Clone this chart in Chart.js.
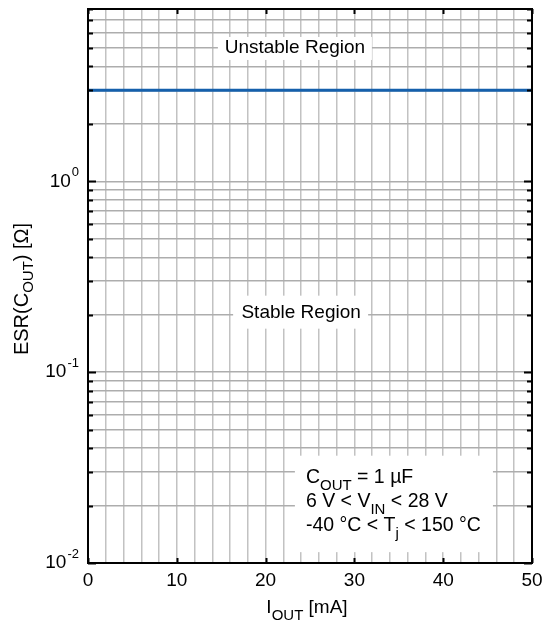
<!DOCTYPE html>
<html>
<head>
<meta charset="utf-8">
<script src="https://cdn.jsdelivr.net/npm/chart.js@4/dist/chart.umd.min.js"></script>
<style>
  html, body { margin: 0; padding: 0; background: #fff; }
  #wrap { width: 550px; height: 623px; }
</style>
</head>
<body>
<div id="wrap"><canvas id="chart"></canvas></div>
<script>
// data
const ioutRange = [0, 50];
const esrLimit = [3, 3];
const xLabels = [0, 10, 20, 30, 40, 50];
const yDecades = [0.01, 0.1, 1];
const yTicks = [
    0.01, 0.02, 0.03, 0.04, 0.05, 0.06, 0.07, 0.08, 0.09,
    0.1, 0.2, 0.3, 0.4, 0.5, 0.6, 0.7, 0.8, 0.9,
    1, 2, 3, 4, 5, 6, 7, 8
];
const decadeExp = ['-2', '-1', '0'];

const FONT = "'Liberation Sans', Arial, Helvetica, sans-serif";

function font(size) {
    return size + 'px ' + FONT;
}

// text pieces with subscripts
function richWidth(ctx, parts, size, subSize) {
    let w = 0;
    parts.forEach(p => {
        ctx.font = font(p.sub ? subSize : size);
        w += ctx.measureText(p.t).width;
    });
    return w;
}

function drawRich(ctx, parts, x, y, size, subSize) {
    let cx = x;
    parts.forEach(p => {
        ctx.font = font(p.sub ? subSize : size);
        ctx.fillText(p.t, cx, p.sub ? y + 7 : y);
        cx += ctx.measureText(p.t).width;
    });
}

const decorPlugin = {
    id: 'decor',
    beforeDraw(chart) {
        const ctx = chart.ctx;
        ctx.save();
        ctx.fillStyle = '#fff';
        ctx.fillRect(0, 0, chart.width, chart.height);
        ctx.restore();
    },
    afterDatasetsDraw(chart) {
        const ctx = chart.ctx;
        const xs = chart.scales.x;
        const ys = chart.scales.y;
        const a = chart.chartArea;
        ctx.save();

        // region labels
        ctx.textBaseline = 'middle';
        ctx.textAlign = 'center';
        ctx.fillStyle = '#fff';
        let ux = xs.getPixelForValue(23.3), uy = ys.getPixelForValue(5.0);
        ctx.fillRect(ux - 77, uy - 11, 154, 23);
        let sx = xs.getPixelForValue(24), sy = ys.getPixelForValue(0.205);
        ctx.fillRect(sx - 68, sy - 17, 135, 33);
        ctx.fillStyle = '#000';
        ctx.font = font(19);
        ctx.fillText('Unstable Region', ux, uy);
        ctx.fillText('Stable Region', sx, sy);

        // conditions box
        const bl = xs.getPixelForValue(23.3), br = xs.getPixelForValue(45.6);
        const bt = ys.getPixelForValue(0.0365), bb = ys.getPixelForValue(0.0114);
        ctx.fillStyle = '#fff';
        ctx.fillRect(bl, bt, br - bl, bb - bt);
        ctx.fillStyle = '#000';
        ctx.textAlign = 'left';
        ctx.textBaseline = 'alphabetic';
        const tx = bl + 11;
        drawRich(ctx, [{ t: 'C' }, { t: 'OUT', sub: true }, { t: ' = 1 \u00b5F' }], tx, bt + 27, 19.5, 15);
        drawRich(ctx, [{ t: '6 V < V' }, { t: 'IN', sub: true }, { t: ' < 28 V' }], tx, bt + 51, 19.5, 15);
        drawRich(ctx, [{ t: '-40 \u00b0C < T' }, { t: 'j', sub: true }, { t: ' < 150 \u00b0C' }], tx, bt + 75, 19.5, 15);

        // inward ticks
        ctx.strokeStyle = '#000';
        ctx.lineWidth = 2;
        ctx.beginPath();
        yTicks.forEach(v => {
            const py = Math.round(ys.getPixelForValue(v)) + 0.5;
            const len = yDecades.includes(v) ? 8 : 5;
            ctx.moveTo(a.left, py); ctx.lineTo(a.left + len, py);
            ctx.moveTo(a.right, py); ctx.lineTo(a.right - len, py);
        });
        xLabels.forEach(v => {
            const px = Math.round(xs.getPixelForValue(v)) + 0.5;
            ctx.moveTo(px, a.top); ctx.lineTo(px, a.top + 5);
            ctx.moveTo(px, a.bottom); ctx.lineTo(px, a.bottom - 5);
        });
        ctx.stroke();

        // frame
        ctx.lineWidth = 2;
        ctx.strokeRect(a.left, a.top, a.right - a.left, a.bottom - a.top);

        // y tick labels 10^n
        ctx.textBaseline = 'middle';
        yDecades.forEach((v, i) => {
            const py = ys.getPixelForValue(v);
            ctx.font = font(13);
            const ew = ctx.measureText(decadeExp[i]).width;
            ctx.textAlign = 'right';
            ctx.fillText(decadeExp[i], a.left - 9, py - 9);
            ctx.font = font(19);
            ctx.fillText('10', a.left - 10 - ew, py);
        });

        // y title
        ctx.save();
        ctx.translate(22, (a.top + a.bottom) / 2 + 3);
        ctx.rotate(-Math.PI / 2);
        ctx.textAlign = 'left';
        ctx.textBaseline = 'middle';
        const yParts = [{ t: 'ESR(C' }, { t: 'OUT', sub: true }, { t: ') [\u03a9]' }];
        const yw = richWidth(ctx, yParts, 20, 15);
        drawRich(ctx, yParts, -yw / 2, 0, 20, 15);
        ctx.restore();

        // x title
        ctx.textAlign = 'left';
        ctx.textBaseline = 'alphabetic';
        const xParts = [{ t: 'I' }, { t: 'OUT', sub: true }, { t: ' [mA]' }];
        const xw = richWidth(ctx, xParts, 19, 15);
        drawRich(ctx, xParts, (a.left + a.right) / 2 - 3 - xw / 2, 613, 19, 15);

        ctx.restore();
    }
};

new Chart(document.getElementById('chart'), {
    type: 'line',
    data: {
        datasets: [{
            data: ioutRange.map((x, i) => ({ x: x, y: esrLimit[i] })),
            borderColor: '#1560ac',
            borderWidth: 3,
            pointRadius: 0,
            fill: false
        }]
    },
    options: {
        responsive: true,
        maintainAspectRatio: false,
        animation: false,
        layout: { padding: { top: 9, right: 18, left: 0, bottom: 0 } },
        plugins: { legend: { display: false }, tooltip: { enabled: false } },
        scales: {
            x: {
                type: 'linear',
                min: 0,
                max: 50,
                afterFit(scale) { scale.height = 60; },
                ticks: {
                    stepSize: 2,
                    autoSkip: false,
                    maxRotation: 0,
                    padding: 6,
                    color: '#000',
                    font: { size: 19, family: FONT },
                    callback: v => (xLabels.includes(v) ? String(v) : '')
                },
                grid: { color: '#c2c2c2', lineWidth: 1.5, drawTicks: false },
                border: { display: false }
            },
            y: {
                type: 'logarithmic',
                min: 0.01,
                max: 8,
                afterFit(scale) { scale.width = 88; },
                afterBuildTicks(scale) {
                    scale.ticks = yTicks.map(v => ({ value: v }));
                },
                ticks: { display: false },
                grid: { color: '#adadad', lineWidth: 1.5, drawTicks: false },
                border: { display: false }
            }
        }
    },
    plugins: [decorPlugin]
});
</script>
</body>
</html>
